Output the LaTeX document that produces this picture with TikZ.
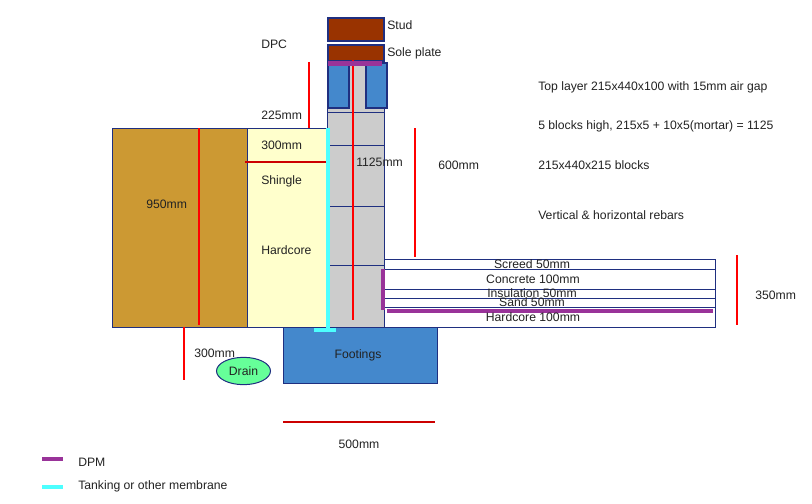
\documentclass[tikz,border=0pt]{standalone}
\usepackage{fontspec}
\usetikzlibrary{shapes.geometric}
\setmainfont{Liberation Sans}
\definecolor{edgeblue}{HTML}{1F2F80}
\definecolor{earth}{HTML}{CC9933}
\definecolor{shingle}{HTML}{FFFFCC}
\definecolor{wall}{HTML}{CCCCCC}
\definecolor{timber}{HTML}{993300}
\definecolor{block}{HTML}{4488CC}
\definecolor{dpm}{HTML}{993399}
\definecolor{tanking}{HTML}{4DFFFF}
\definecolor{drain}{HTML}{66FF99}
\definecolor{darkred}{HTML}{CC0000}
\definecolor{labeltext}{HTML}{222222}
\tikzset{
	part/.style={draw=edgeblue,line width=0.75pt},
	heavy/.style={draw=edgeblue,line width=1.5pt},
	course/.style={draw=edgeblue,line width=0.6pt},
	measure/.style={draw=red,line width=1.5pt},
	cut/.style={draw=darkred,line width=1.5pt},
	dpmline/.style={draw=dpm,line width=3pt},
	tankline/.style={draw=tanking,line width=3pt},
	lbl/.style={anchor=west,inner sep=0pt,yshift=-0.4pt,font=\fontsize{9.15}{11}\selectfont,text=labeltext},
	mid/.style={anchor=center,inner sep=0pt,yshift=-0.4pt,font=\fontsize{9.15}{11}\selectfont,text=labeltext}
}
\begin{document}
\begin{tikzpicture}[x=0.75pt,y=-0.75pt]
	\useasboundingbox (0,0) rectangle (812,503);
	% ground and wall
	\path[part,fill=earth] (112,128) rectangle (247,327);
	\path[part,fill=shingle] (247,128) rectangle (327,327);
	\path[part,fill=wall] (327,62) rectangle (384,327);
	\path[part,fill=white] (384,259) rectangle (715,327);
	\path[part,fill=block] (283,327) rectangle (437,383);
	% courses
	\foreach \y in {112,145,206,265}
		\path[course] (328,\y) -- (385,\y);
	\foreach \y in {269,289,298,307}
		\path[course] (384,\y) -- (715,\y);
	% timber and top blocks
	\path[heavy,fill=timber] (328,18) rectangle (384,41);
	\path[heavy,fill=timber] (328,45) rectangle (384,61);
	\path[heavy,fill=block] (328,63) rectangle (349,108);
	\path[heavy,fill=block] (366,63) rectangle (387,108);
	% dimensions
	\path[measure] (309.2,62) -- (309.2,128);
	\path[measure] (353.2,60) -- (353.2,320);
	\path[measure] (415.2,128) -- (415.2,257);
	\path[measure] (199.2,128) -- (199.2,325);
	\path[measure] (184.2,327) -- (184.2,380);
	\path[measure] (737.2,255) -- (737.2,325);
	\path[cut] (245,162) -- (326,162);
	\path[cut] (283,422) -- (435,422);
	% membranes
	\path[dpmline] (328,63.5) -- (382,63.5);
	\path[dpmline] (383,269) -- (383,310);
	\path[dpmline] (387,311) -- (713,311);
	\path[tankline] (327.5,128) -- (327.5,331);
	\path[tankline] (314,330) -- (336,330);
	\path[dpmline] (42,459) -- (63,459);
	\path[tankline] (42,487) -- (63,487);
	% labels
	\node[lbl] (stud) at (387,25) {Stud};
	\node[lbl] (sole) at (387,53) {Sole plate};
	\node[lbl] (dpc) at (261,44) {DPC};
	\node[lbl] (d225) at (261,115) {225mm};
	\node[lbl] (d300a) at (261,145) {300mm};
	\node[lbl] (shingletxt) at (261,181) {Shingle};
	\node[lbl] (hardcoretxt) at (261,250) {Hardcore};
	\node[lbl] (d950) at (146,204) {950mm};
	\node[lbl] (d1125) at (356,162) {1125mm};
	\node[lbl] (d600) at (438,165) {600mm};
	\node[lbl] (toplayer) at (538,87) {Top layer 215x440x100 with 15mm air gap};
	\node[lbl] (highblocks) at (538,126) {5 blocks high, 215x5 + 10x5(mortar) = 1125};
	\node[lbl] (blocksize) at (538,165) {215x440x215 blocks};
	\node[lbl] (rebars) at (538,215) {Vertical \& horizontal rebars};
	\node[mid] (screed) at (532,264) {Screed 50mm};
	\node[mid] (concrete) at (533,279) {Concrete 100mm};
	\node[mid] (insulation) at (532,293) {Insulation 50mm};
	\node[mid] (sand) at (532,302) {Sand 50mm};
	\node[mid] (hardcorefl) at (533,317) {Hardcore 100mm};
	\node[lbl] (d350) at (755,295) {350mm};
	\node[mid] (footings) at (358,355) {Footings};
	\node[lbl] (d300b) at (194,353) {300mm};
	\node[part,fill=drain,ellipse,minimum width=40.5pt,minimum height=20.5pt,inner sep=0pt,font=\fontsize{9.15}{11}\selectfont,text=labeltext] (drainpipe) at (243.5,371) {Drain};
	\node[mid] (d500) at (359,444) {500mm};
	\node[lbl] (dpmkey) at (78,462) {DPM};
	\node[lbl] (tankkey) at (78,486) {Tanking or other membrane};
\end{tikzpicture}
\end{document}
